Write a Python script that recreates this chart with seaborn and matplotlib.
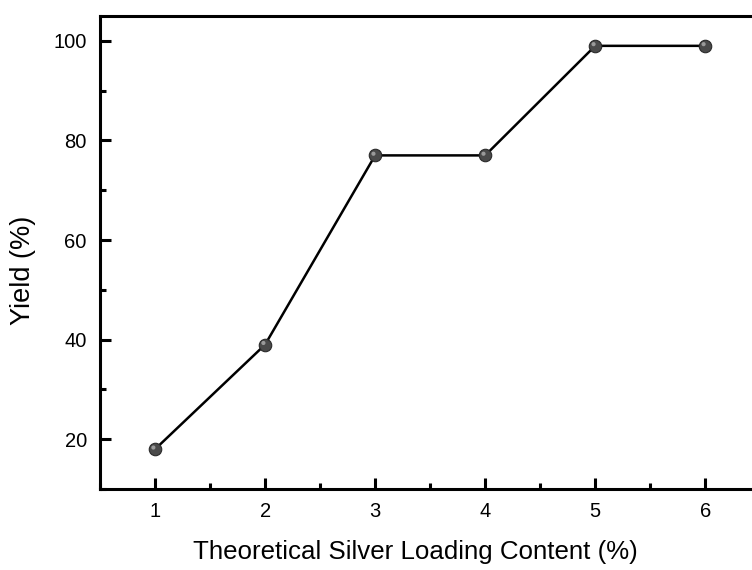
import matplotlib
matplotlib.use("Agg")
import matplotlib.pyplot as plt
import matplotlib.transforms as mtransforms
from matplotlib.ticker import MultipleLocator
import seaborn as sns
import pandas as pd

# Yield versus theoretical silver loading
loading = [1, 2, 3, 4, 5, 6]
yield_pct = [18, 39, 77, 77, 99, 99]

sns.set_style("ticks")
plt.rcParams["font.family"] = ["Liberation Sans", "DejaVu Sans"]

df = pd.DataFrame({"loading": loading, "yield": yield_pct})

fig = plt.figure(figsize=(7.52, 5.70), dpi=100)
ax = fig.add_axes([0.133, 0.142, 0.878, 0.830])

sns.lineplot(data=df, x="loading", y="yield", ax=ax, color="black",
             linewidth=1.8, marker="o", markersize=9,
             markerfacecolor="#4a4a4a", markeredgecolor="#2a2a2a",
             markeredgewidth=0.8)

# small highlight to give the markers a shaded look
hl = ax.transData + mtransforms.ScaledTranslation(-1.2 / 72, 1.2 / 72, fig.dpi_scale_trans)
ax.scatter(loading, yield_pct, s=9, color="#9a9a9a", edgecolors="none",
           transform=hl, zorder=5)

ax.set_xlim(0.5, 6.5)
ax.set_ylim(10, 105)
ax.xaxis.set_major_locator(MultipleLocator(1))
ax.xaxis.set_minor_locator(MultipleLocator(0.5))
ax.yaxis.set_minor_locator(MultipleLocator(10))
ax.set_yticks([20, 40, 60, 80, 100])

ax.tick_params(which="major", direction="in", length=8, width=2.2,
               labelsize=14.5, pad=9.5, color="black", labelcolor="black")
ax.tick_params(which="minor", direction="in", length=4, width=2.2, color="black")
ax.tick_params(top=False, right=False, which="both")

for s in ax.spines.values():
    s.set_linewidth(2.2)
    s.set_color("black")
    s.set_visible(True)

ax.set_xlabel("Theoretical Silver Loading Content (%)", fontsize=18.6,
              labelpad=12, color="black")
ax.xaxis.set_label_coords(0.478, -0.108)
ax.set_ylabel("Yield (%)", fontsize=19.5, color="black")
ax.yaxis.set_label_coords(-0.097, 0.462)

fig.savefig("out.png", dpi=100)
